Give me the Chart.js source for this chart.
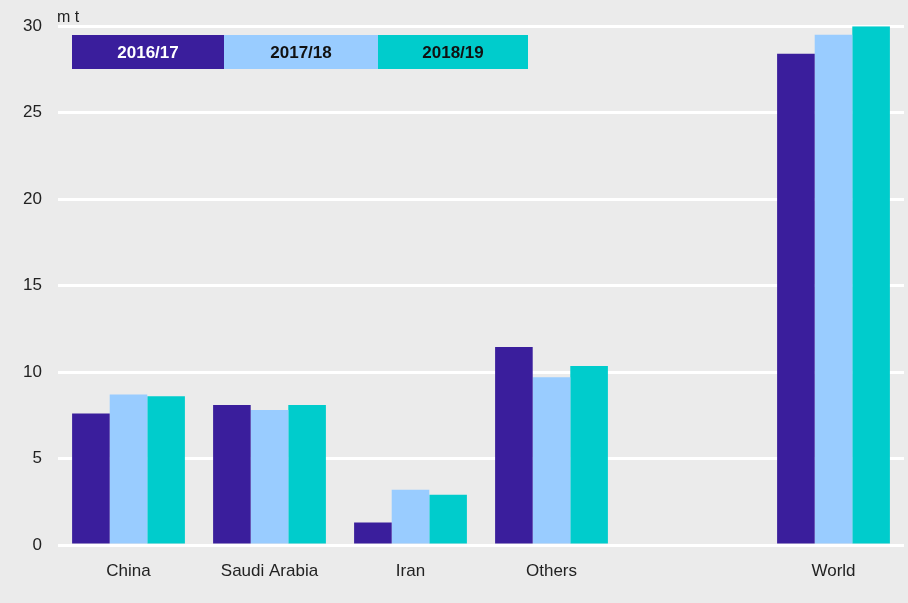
<!DOCTYPE html>
<html>
<head>
<meta charset="utf-8">
<script src="https://cdn.jsdelivr.net/npm/chart.js@4"></script>
<style>
  html, body { margin: 0; padding: 0; background: #ebebeb; }
  #wrap { width: 908px; height: 603px; position: relative; }
</style>
</head>
<body>
<div id="wrap"><canvas id="myChart"></canvas></div>
<script>
const categories = ['China', 'Saudi Arabia', 'Iran', 'Others', '', 'World'];
const seriesNames = ['2016/17', '2017/18', '2018/19'];
const values1617 = [7.6, 8.1, 1.3, 11.45, null, 28.4];
const values1718 = [8.7, 7.8, 3.2, 9.7, null, 29.5];
const values1819 = [8.6, 8.1, 2.9, 10.35, null, 30.0];
const yTicks = [0, 5, 10, 15, 20, 25, 30];
const unitLabel = 'm t';

const colors = ['#3a1e9c', '#99ccff', '#00cccc'];
const textColors = ['#ffffff', '#111111', '#111111'];

// legend drawn as three joined boxes at the top left, plus the unit label
const boxLegend = {
  id: 'boxLegend',
  afterDraw(chart) {
    const c = chart.ctx;
    const x0 = 72, y0 = 35, h = 34;
    const widths = [152, 154, 150];
    c.save();
    c.font = 'bold 17px "Liberation Sans Narrow", "Liberation Sans", Arial, sans-serif';
    c.textAlign = 'center';
    c.textBaseline = 'middle';
    let x = x0;
    chart.data.datasets.forEach((ds, i) => {
      c.fillStyle = ds.backgroundColor;
      c.fillRect(x, y0, widths[i], h);
      c.fillStyle = textColors[i];
      c.fillText(ds.label, x + widths[i] / 2, y0 + h / 2 + 1);
      x += widths[i];
    });
    c.font = '16px "Liberation Sans", Arial, sans-serif';
    c.fillStyle = '#222';
    c.textAlign = 'left';
    c.fillText(unitLabel, 57, 18);
    c.restore();
  }
};

const ctx = document.getElementById('myChart');
const data = {
  labels: categories,
  datasets: [values1617, values1718, values1819].map((vals, i) => ({
    label: seriesNames[i],
    data: vals,
    backgroundColor: colors[i],
    borderWidth: 0,
    categoryPercentage: 0.8,
    barPercentage: 1.0
  }))
};

const config = {
  type: 'bar',
  data: data,
  options: {
    responsive: true,
    maintainAspectRatio: false,
    animation: false,
    layout: { padding: { top: 24, right: 4, left: 0, bottom: 0 } },
    plugins: {
      legend: { display: false },
      tooltip: { enabled: false }
    },
    scales: {
      x: {
        grid: { display: false },
        border: { display: false },
        ticks: {
          color: '#222',
          font: { size: 17, family: '"Liberation Sans", Arial, sans-serif' },
          padding: 8,
          maxRotation: 0,
          autoSkip: false
        },
        afterFit(scale) { scale.height = 58; }
      },
      y: {
        min: 0, max: 30,
        afterBuildTicks(scale) { scale.ticks = yTicks.map(v => ({ value: v })); },
        grid: { color: '#ffffff', lineWidth: 3, drawTicks: false },
        border: { display: false },
        ticks: {
          color: '#222',
          font: { size: 17, family: '"Liberation Sans", Arial, sans-serif' },
          padding: 16
        },
        afterFit(scale) { scale.width = 58; }
      }
    }
  },
  plugins: [boxLegend]
};

const myChart = new Chart(ctx, config);
</script>
</body>
</html>
